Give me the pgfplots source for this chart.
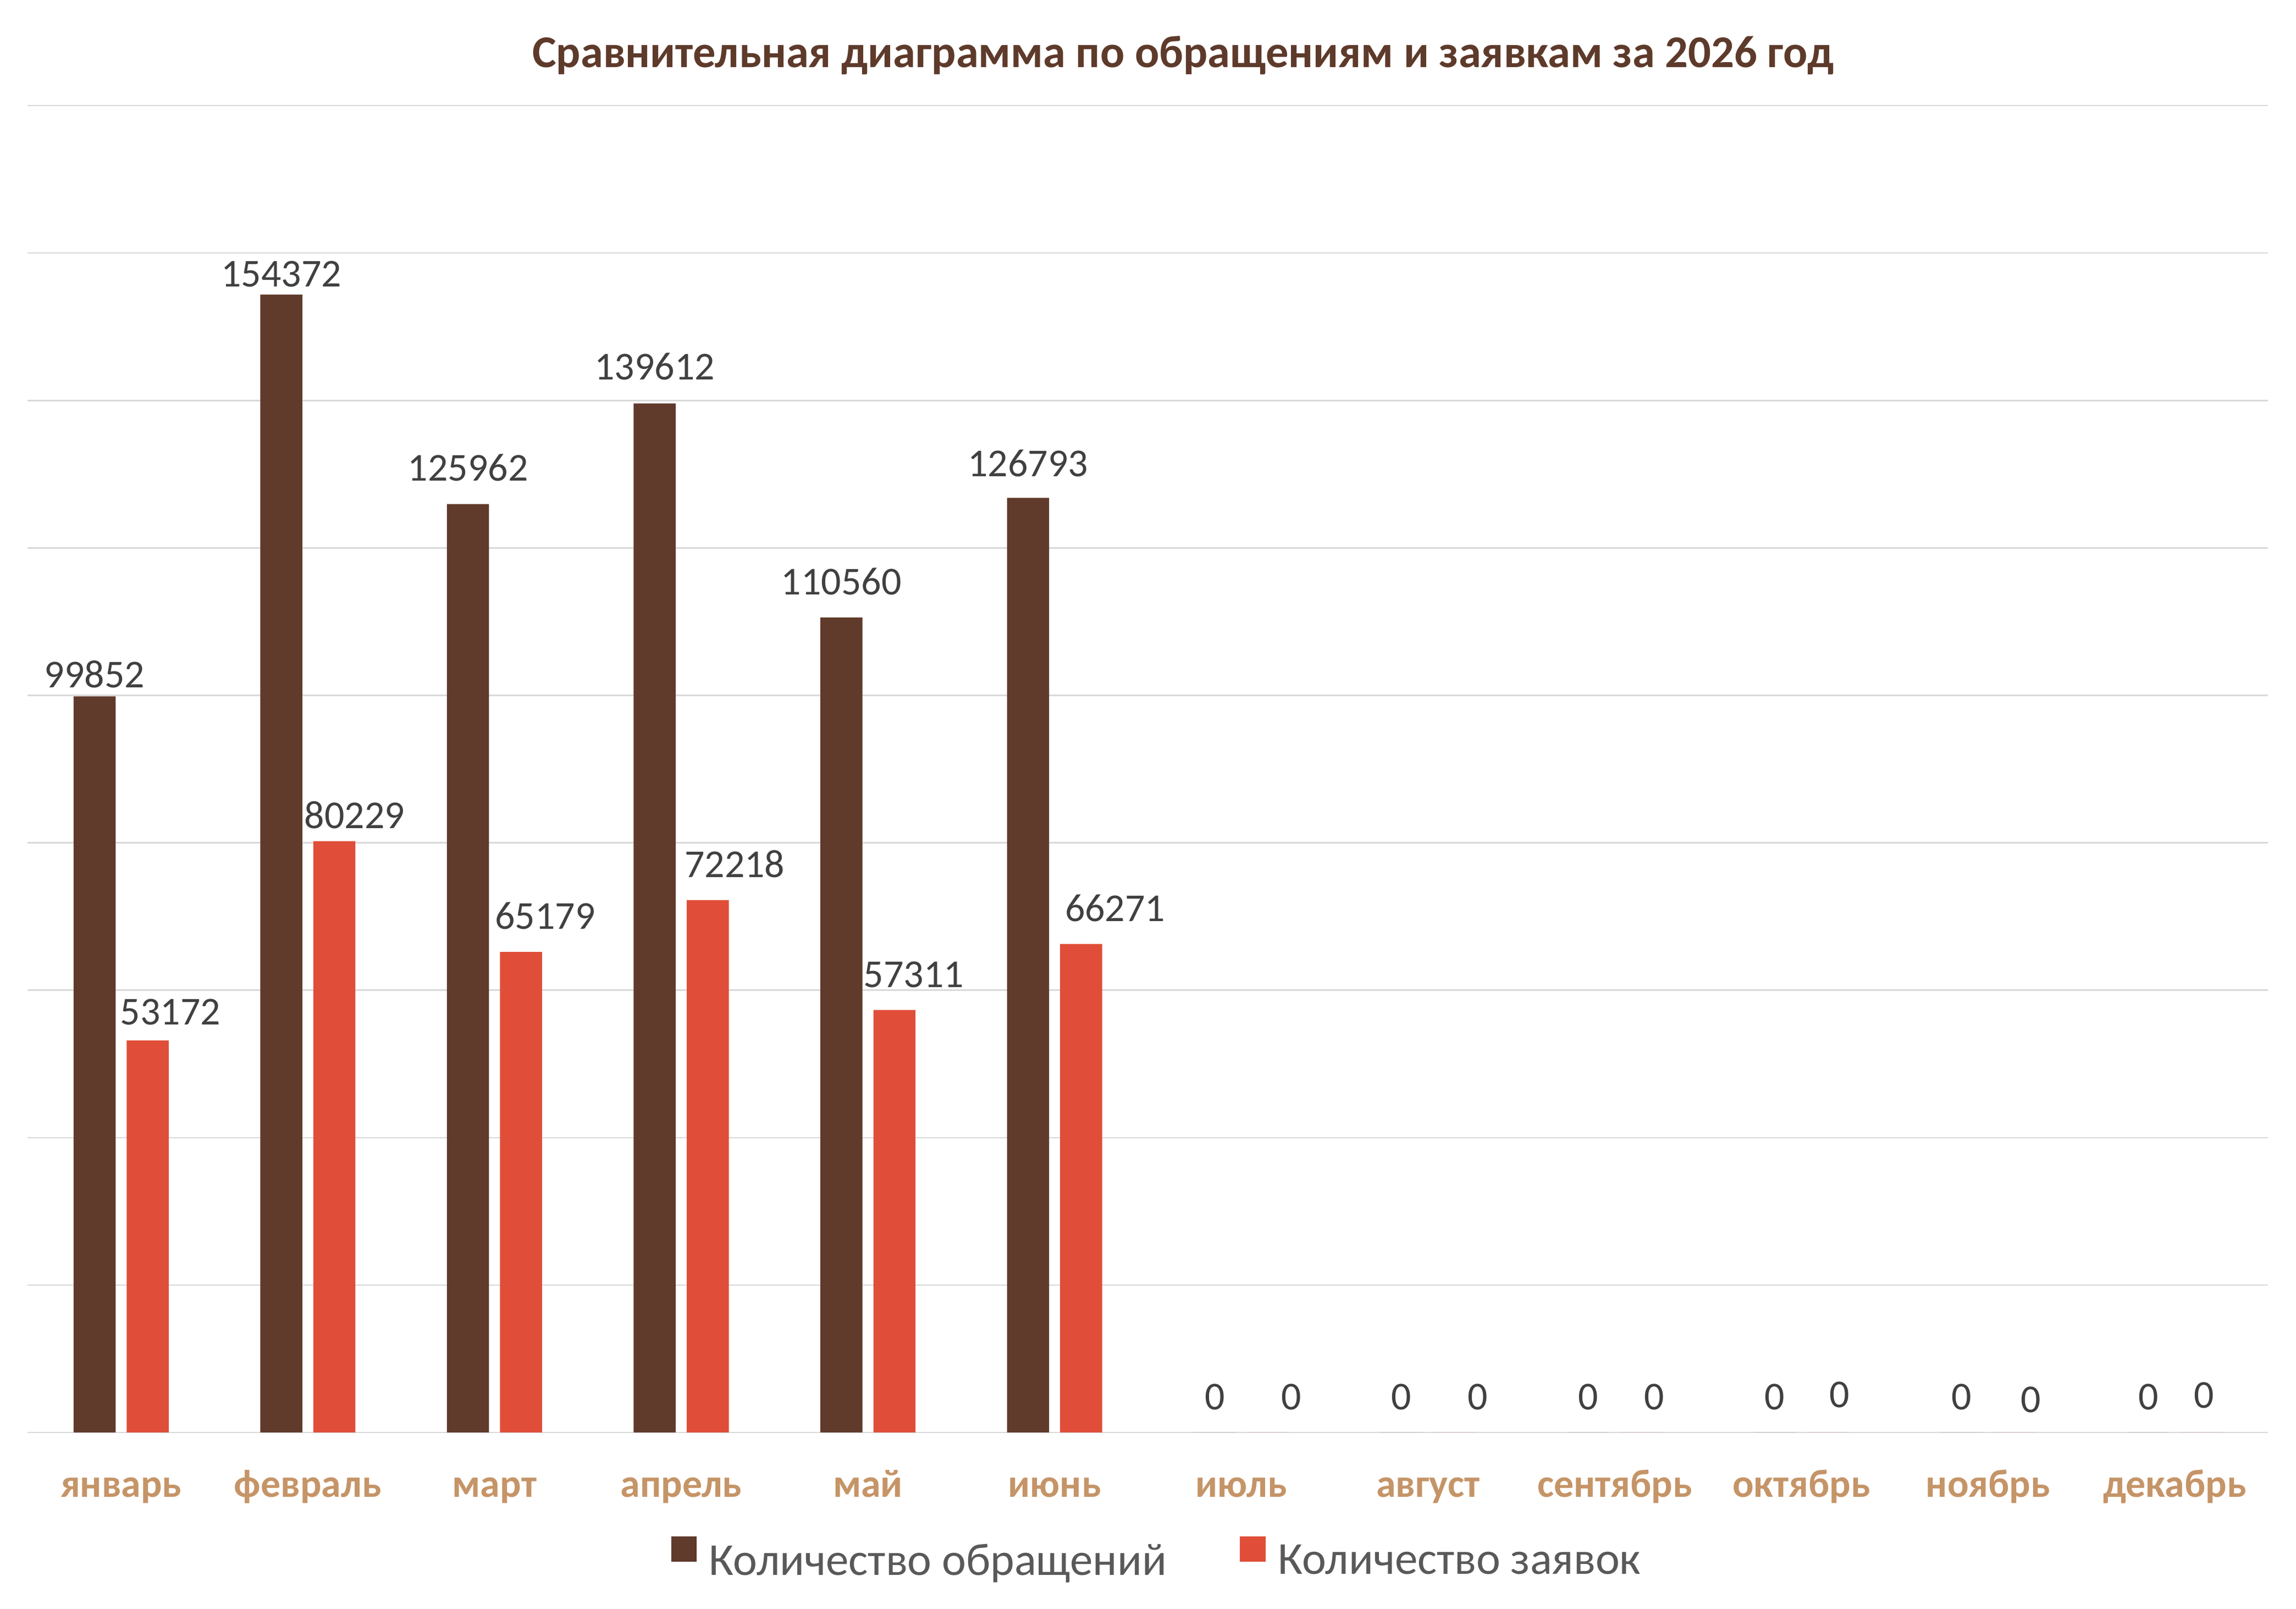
\documentclass[border=0pt]{standalone}
\usepackage{fontspec}
\setmainfont{Carlito}
\usepackage{pgfplots}
\usepackage{pgfplotstable}
\pgfplotsset{compat=1.18}
\definecolor{cA}{HTML}{603A2B}
\definecolor{cB}{HTML}{E04E39}
\definecolor{titlec}{HTML}{5E3A2B}
\definecolor{monthc}{HTML}{C59467}
\definecolor{labc}{HTML}{404040}
\definecolor{legc}{HTML}{595959}
\definecolor{gridc}{HTML}{D9D9D9}

\pgfplotstableread{
x y dx dy
0 99852 0 2.7
1 154372 0 2.3
2 125962 0 7.5
3 139612 0 7.7
4 110560 0 7.5
5 126793 0 7.0
6 0 0 7.4
7 0 0 7.4
8 0 0 7.4
9 0 0 7.4
10 0 0 7.4
11 0 0 7.4
}\obrasch

\pgfplotstableread{
x y dx dy
0 53172 7.8 5.1
1 80229 6.9 4.1
2 65179 8.2 7.5
3 72218 9.2 7.5
4 57311 6.6 7.5
5 66271 11.6 7.5
6 0 8.0 7.4
7 0 8.0 7.4
8 0 4.5 7.4
9 0 4.0 8.3
10 0 5.5 6.5
11 0 1.0 8.1
}\zayavki

\begin{document}
\begin{tikzpicture}
\path[use as bounding box] (-9.48pt,-60.26pt) rectangle (774.52pt,489.04pt);
\begin{axis}[
  scale only axis,
  width=765pt, height=452.96pt,
  at={(0pt,0pt)}, anchor=south west,
  ybar,
  bar width=14.36pt,
  xmin=-0.5, xmax=11.5,
  ymin=0, ymax=180000,
  ytick={0,20000,...,180000},
  scaled y ticks=false,
  yticklabels={},
  xtick={0,...,11},
  xticklabels={январь,февраль,март,апрель,май,июнь,июль,август,сентябрь,октябрь,ноябрь,декабрь},
  xticklabel style={font=\bfseries\fontsize{13.5}{16}\selectfont, text=monthc, anchor=base, yshift=-22pt},
  major tick length=0pt,
  axis line style={draw=none},
  ymajorgrids,
  grid style={color=gridc, line width=0.45pt},
  clip=false,
  legend columns=2,
  legend style={at={(rel axis cs:0.5036,-0.0945)}, anchor=center, draw=none, fill=none,
    font=\fontsize{15.6}{18}\selectfont, text=legc,
    nodes={inner sep=0pt},
    /tikz/every odd column/.style={column sep=4.3pt},
    /tikz/every even column/.style={column sep=25pt}},
]
\addplot[fill=cA, draw=none, bar shift=-9.06pt,
  point meta=explicit symbolic,
  visualization depends on={\thisrow{dx} \as \dx},
  visualization depends on={\thisrow{dy} \as \dy},
  nodes near coords={\pgfplotspointmeta},
  nodes near coords style={anchor=south, inner sep=0pt, xshift=\dx pt, yshift=\dy pt,
    font=\fontsize{13.5}{16}\selectfont, text=labc},
  legend image code/.code={\fill[cA] (0pt,0pt) rectangle (8.7pt,8.7pt);}]
  table[x=x, y=y, meta=y] {\obrasch};
\addlegendentry{Количество обращений}
\addplot[fill=cB, draw=none, bar shift=9.06pt,
  point meta=explicit symbolic,
  visualization depends on={\thisrow{dx} \as \dx},
  visualization depends on={\thisrow{dy} \as \dy},
  nodes near coords={\pgfplotspointmeta},
  nodes near coords style={anchor=south, inner sep=0pt, xshift=\dx pt, yshift=\dy pt,
    font=\fontsize{13.5}{16}\selectfont, text=labc},
  legend image code/.code={\fill[cB] (0pt,0pt) rectangle (8.7pt,8.7pt);}]
  table[x=x, y=y, meta=y] {\zayavki};
\addlegendentry{Количество заявок}
\node[anchor=base, font=\bfseries\fontsize{15.5}{18}\selectfont, text=titlec, inner sep=0pt]
  at (rel axis cs:0.5157,1) [yshift=13.1pt] {Сравнительная диаграмма по обращениям и заявкам за 2026 год};
\end{axis}
\end{tikzpicture}
\end{document}
